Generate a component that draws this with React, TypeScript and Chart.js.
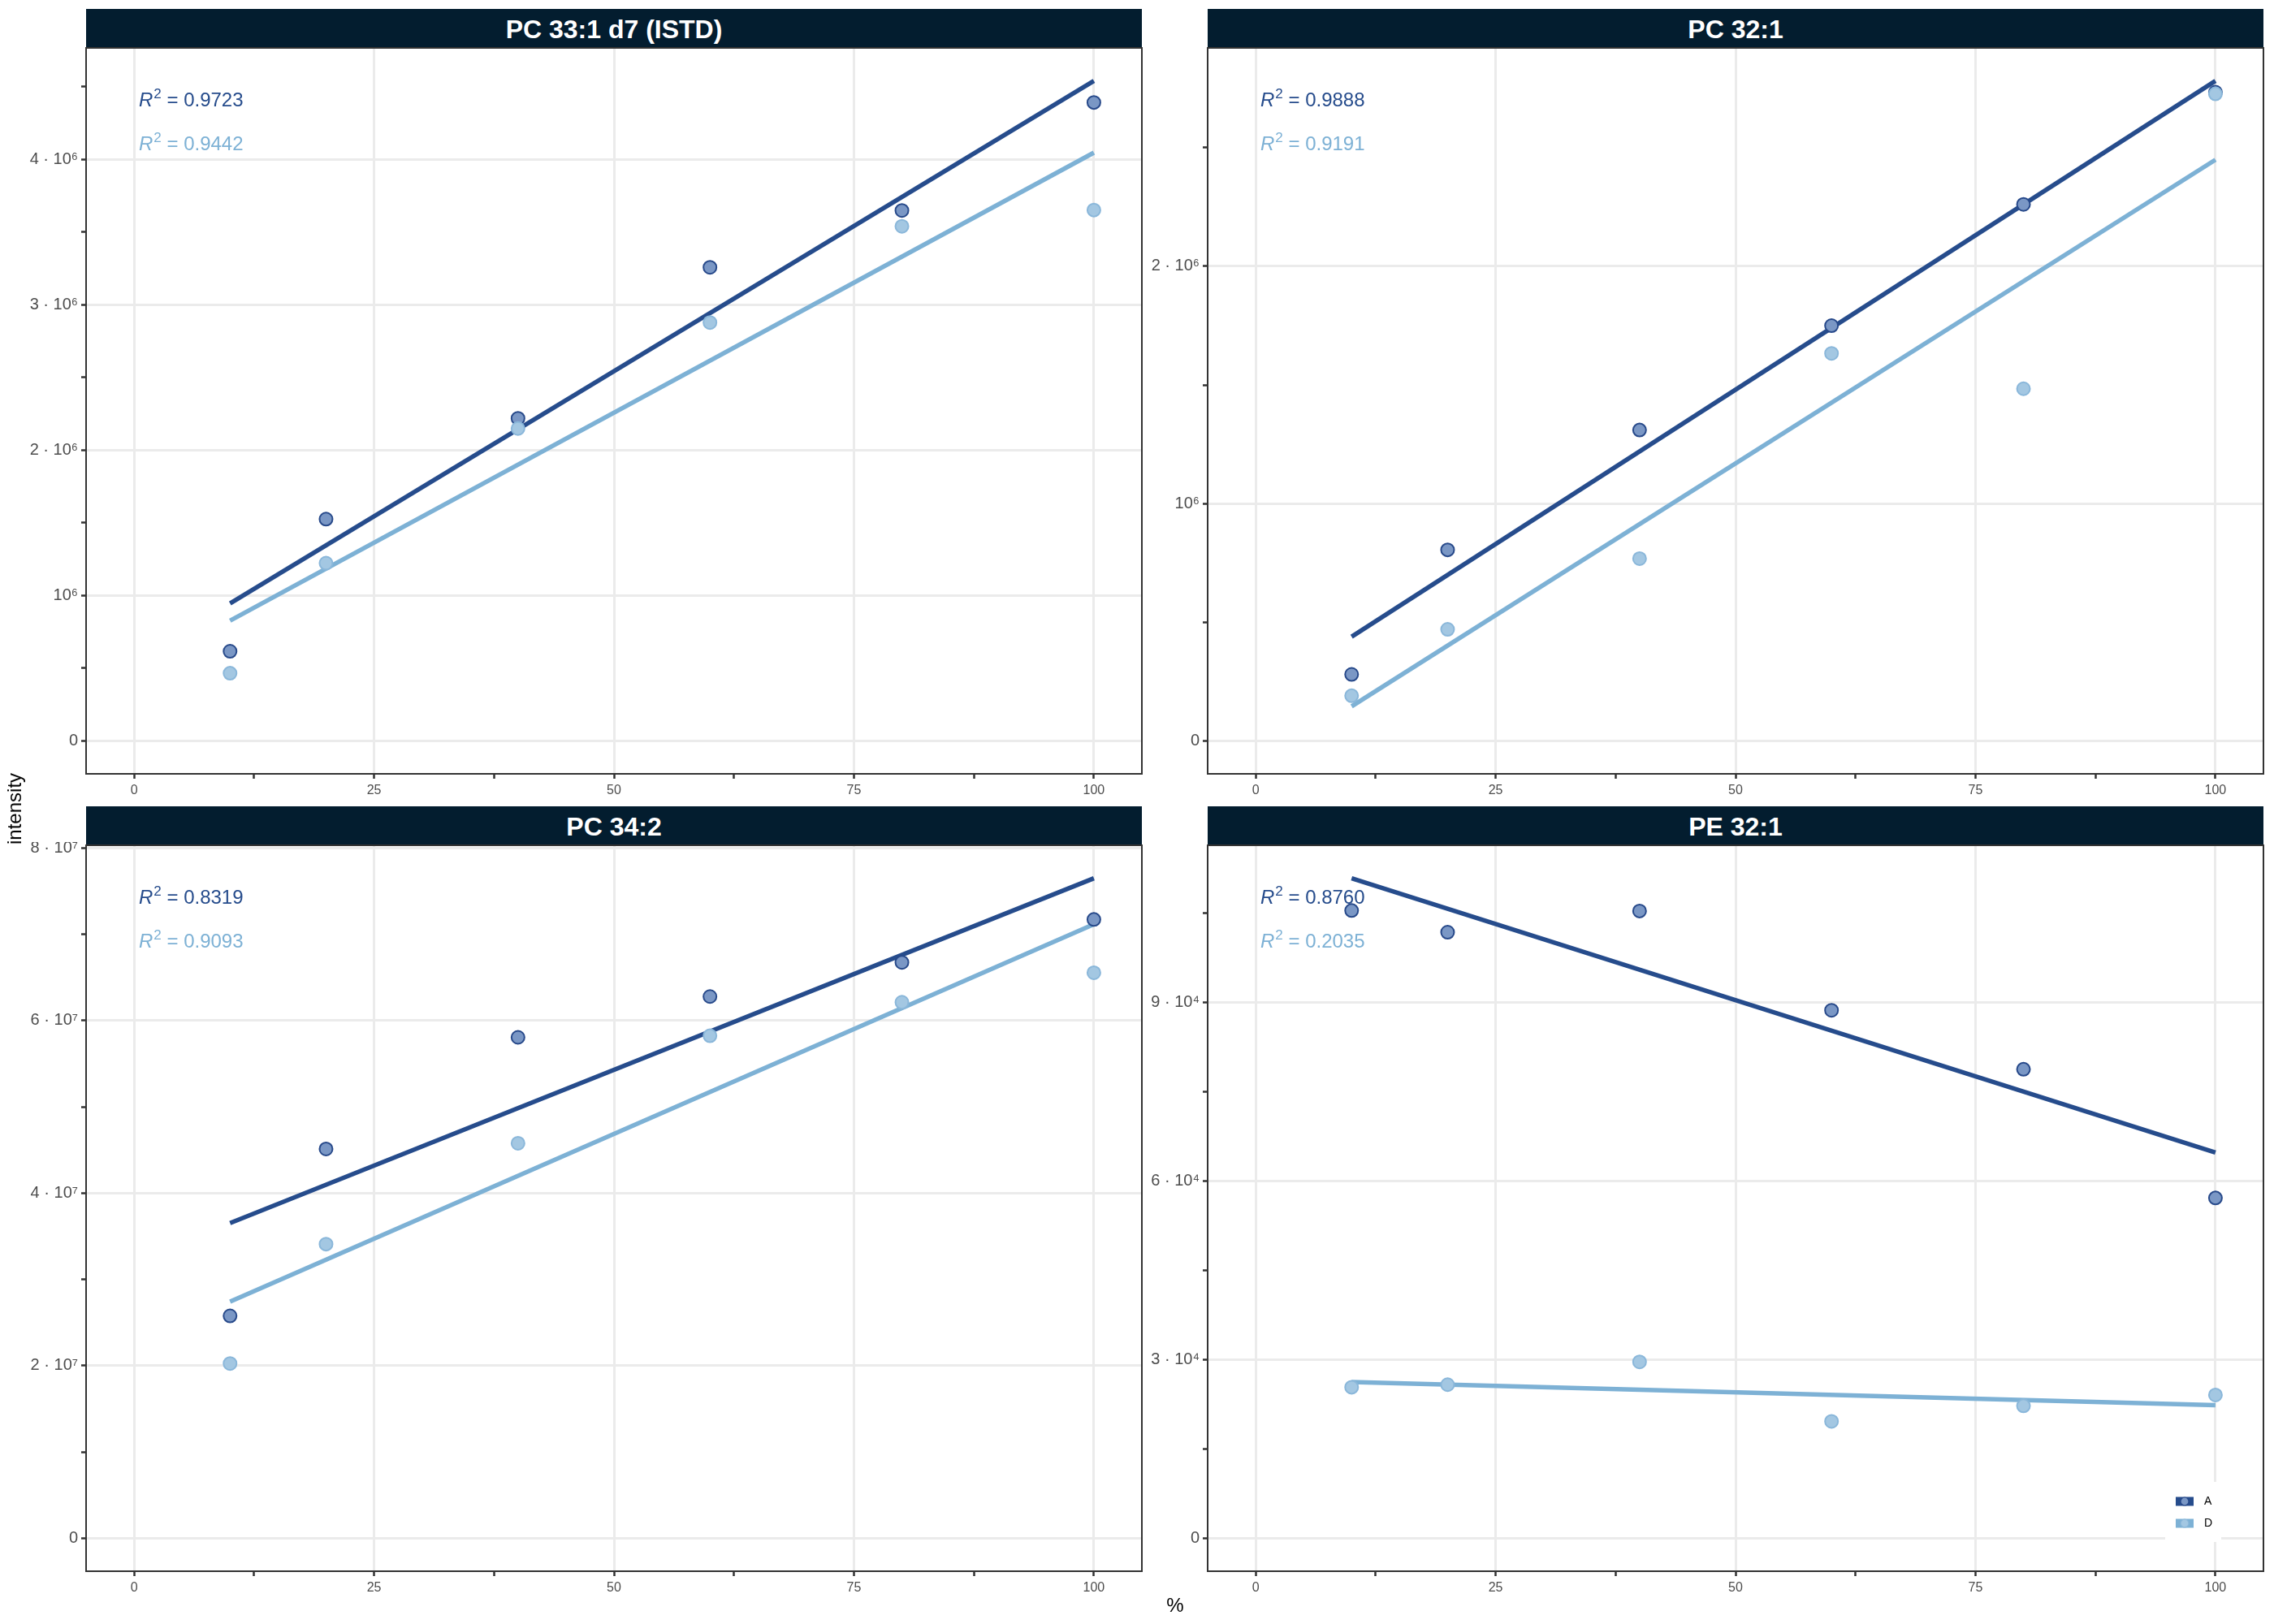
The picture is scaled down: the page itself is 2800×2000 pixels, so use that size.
import { useEffect, useRef } from "react";
import Chart from "chart.js/auto";

const FONT = "'Liberation Sans', Arial, Helvetica, sans-serif";

// concentration (%) of each sample
const percent = [10, 20, 40, 60, 80, 100];
const groups = ["A", "D"];
const titles = ["PC 33:1 d7 (ISTD)", "PC 32:1", "PC 34:2", "PE 32:1"];

// intensities
const pc331A = [0.616e6, 1.525e6, 2.218e6, 3.257e6, 3.648e6, 4.391e6];
const pc331D = [0.465e6, 1.222e6, 2.148e6, 2.877e6, 3.539e6, 3.651e6];
const pc321A = [0.28e6, 0.805e6, 1.31e6, 1.75e6, 2.261e6, 2.734e6];
const pc321D = [0.19e6, 0.47e6, 0.768e6, 1.633e6, 1.484e6, 2.727e6];
const pc342A = [2.577e7, 4.512e7, 5.806e7, 6.279e7, 6.675e7, 7.172e7];
const pc342D = [2.025e7, 3.409e7, 4.578e7, 5.824e7, 6.213e7, 6.555e7];
const pe321A = [10.538e4, 10.174e4, 10.53e4, 8.863e4, 7.873e4, 5.712e4];
const pe321D = [2.535e4, 2.578e4, 2.96e4, 1.962e4, 2.222e4, 2.405e4];

const seriesA = [pc331A, pc321A, pc342A, pe321A];
const seriesD = [pc331D, pc321D, pc342D, pe321D];

const r2A = ["0.9723", "0.9888", "0.8319", "0.8760"];
const r2D = ["0.9442", "0.9191", "0.9093", "0.2035"];

// y axis: major step and power of ten used in the labels
const yMajorStep = [1e6, 1e6, 2e7, 3e4];
const yExponent = [6, 6, 7, 4];
const xMajorStep = 25;
const xTickMax = 100;

const colA = { line: "#264c8c", fill: "#7a97c5", edge: "#27498a" };
const colD = { line: "#7db1d5", fill: "#a3c7e2", edge: "#8ab7da" };

// layout
const PLOT_LEFT = [106, 1487];
const PLOT_TOP = [59, 1041];
const PLOT_W = 1300;
const PLOT_H = 894;
const STRIP_H = 48;
const Y_AXIS_W = 100;
const X_AXIS_H = 40;
const PAD_T = 4;
const PAD_R = 6;

const SUP = "⁰¹²³⁴⁵⁶⁷⁸⁹";
const sup = (n: number) =>
  String(n)
    .split("")
    .map((c) => SUP[+c])
    .join("");

function linFit(xs: number[], ys: number[]) {
  const n = xs.length;
  const mx = xs.reduce((s, v) => s + v, 0) / n;
  const my = ys.reduce((s, v) => s + v, 0) / n;
  let sxy = 0;
  let sxx = 0;
  xs.forEach((x, i) => {
    sxy += (x - mx) * (ys[i] - my);
    sxx += (x - mx) * (x - mx);
  });
  const b = sxy / sxx;
  return (x: number) => my + b * (x - mx);
}

const isMultiple = (v: number, step: number) =>
  Math.abs(v / step - Math.round(v / step)) < 1e-6;

function drawR2(ctx: CanvasRenderingContext2D, x: number, y: number, val: string, color: string) {
  ctx.fillStyle = color;
  ctx.textAlign = "left";
  ctx.textBaseline = "alphabetic";
  ctx.font = `italic 24px ${FONT}`;
  ctx.fillText("R", x, y);
  x += ctx.measureText("R").width + 1;
  ctx.font = `17px ${FONT}`;
  ctx.fillText("2", x, y - 10);
  x += ctx.measureText("2").width;
  ctx.font = `24px ${FONT}`;
  ctx.fillText(" = " + val, x, y);
}

function Panel({ idx }: { idx: number }) {
  const ref = useRef<HTMLCanvasElement>(null);
  const col = idx % 2;
  const row = Math.floor(idx / 2);
  const left = PLOT_LEFT[col] - Y_AXIS_W;
  const top = PLOT_TOP[row] - PAD_T;
  const width = Y_AXIS_W + PLOT_W + PAD_R;
  const height = PAD_T + PLOT_H + X_AXIS_H;

  useEffect(() => {
    if (!ref.current) return;
    const a = seriesA[idx];
    const d = seriesD[idx];
    const fa = linFit(percent, a);
    const fd = linFit(percent, d);
    const ends = [Math.min(...percent), Math.max(...percent)];
    const all = [...a, ...d, ...ends.map(fa), ...ends.map(fd), 0];
    const lo = Math.min(...all);
    const hi = Math.max(...all);
    const pad = (hi - lo) * 0.05;
    const major = yMajorStep[idx];
    const minor = major / 2;
    const exp = yExponent[idx];
    const xPad = xTickMax * 0.05;

    const yLabel = (v: number) => {
      if (!isMultiple(v, major)) return "";
      if (Math.abs(v) < minor / 10) return "0";
      const m = Math.round(v / 10 ** exp);
      return m === 1 ? `10${sup(exp)}` : `${m} · 10${sup(exp)}`;
    };

    const decor = {
      id: "decor",
      afterDatasetsDraw(chart: any) {
        const { ctx, chartArea: ca } = chart;
        ctx.save();
        drawR2(ctx, ca.left + 65, ca.top + 72, r2A[idx], colA.line);
        drawR2(ctx, ca.left + 65, ca.top + 126, r2D[idx], colD.line);
        if (idx === 3) {
          const bx = ca.right - 121;
          const by = ca.bottom - 110;
          ctx.fillStyle = "#ffffff";
          ctx.fillRect(bx, by, 69, 74);
          [colA, colD].forEach((c, i) => {
            const cy = by + 24 + i * 27;
            ctx.fillStyle = c.line;
            ctx.fillRect(bx + 13, cy - 5.5, 22, 11);
            ctx.beginPath();
            ctx.arc(bx + 24, cy, 5, 0, Math.PI * 2);
            ctx.fillStyle = c.fill;
            ctx.fill();
            ctx.lineWidth = 1.2;
            ctx.strokeStyle = c.edge;
            ctx.stroke();
            ctx.fillStyle = "#000000";
            ctx.font = `14px ${FONT}`;
            ctx.textBaseline = "middle";
            ctx.textAlign = "left";
            ctx.fillText(groups[i], bx + 48, cy);
          });
        }
        ctx.lineWidth = 2;
        ctx.strokeStyle = "#333333";
        ctx.strokeRect(ca.left, ca.top, ca.right - ca.left, ca.bottom - ca.top);
        ctx.restore();
      },
    };

    const chart = new Chart(ref.current, {
      type: "scatter",
      data: {
        datasets: [
          {
            type: "line",
            label: "fit A",
            data: ends.map((x) => ({ x, y: fa(x) })),
            borderColor: colA.line,
            borderWidth: 5.5,
            pointRadius: 0,
            fill: false,
            order: 4,
          },
          {
            type: "line",
            label: "fit D",
            data: ends.map((x) => ({ x, y: fd(x) })),
            borderColor: colD.line,
            borderWidth: 5.5,
            pointRadius: 0,
            fill: false,
            order: 3,
          },
          {
            label: groups[0],
            data: percent.map((x, i) => ({ x, y: a[i] })),
            backgroundColor: colA.fill,
            borderColor: colA.edge,
            borderWidth: 2,
            pointRadius: 8,
            order: 2,
          },
          {
            label: groups[1],
            data: percent.map((x, i) => ({ x, y: d[i] })),
            backgroundColor: colD.fill,
            borderColor: colD.edge,
            borderWidth: 2,
            pointRadius: 8,
            order: 1,
          },
        ],
      },
      options: {
        animation: false,
        responsive: false,
        events: [],
        layout: {
          autoPadding: false,
          padding: { top: PAD_T, right: PAD_R, left: 0, bottom: 0 },
        },
        plugins: {
          legend: { display: false },
          tooltip: { enabled: false },
        },
        scales: {
          x: {
            type: "linear",
            min: -xPad,
            max: xTickMax + xPad,
            afterBuildTicks: (s: any) => {
              const t = [];
              for (let k = 0; k * (xMajorStep / 2) <= xTickMax; k++) t.push({ value: k * (xMajorStep / 2) });
              s.ticks = t;
            },
            afterFit: (s: any) => {
              s.height = X_AXIS_H;
              s.paddingLeft = 0;
              s.paddingRight = 0;
            },
            border: { display: false },
            grid: {
              color: (c: any) =>
                c.tick && isMultiple(c.tick.value, xMajorStep) ? "#ebebeb" : "rgba(0,0,0,0)",
              lineWidth: 3,
              tickColor: "#333333",
              tickWidth: 2.5,
              tickLength: 6,
            },
            ticks: {
              autoSkip: false,
              maxRotation: 0,
              padding: 5,
              color: "#4d4d4d",
              font: { family: FONT, size: 16 },
              callback: (v: any) => (isMultiple(Number(v), xMajorStep) ? String(v) : ""),
            },
          },
          y: {
            type: "linear",
            min: lo - pad,
            max: hi + pad,
            afterBuildTicks: (s: any) => {
              const t = [];
              for (let k = Math.ceil((lo - pad) / minor); k * minor <= hi + pad; k++) t.push({ value: k * minor });
              s.ticks = t;
            },
            afterFit: (s: any) => {
              s.width = Y_AXIS_W;
              s.paddingTop = 0;
              s.paddingBottom = 0;
            },
            border: { display: false },
            grid: {
              color: (c: any) =>
                c.tick && isMultiple(c.tick.value, major) ? "#ebebeb" : "rgba(0,0,0,0)",
              lineWidth: 3,
              tickColor: "#333333",
              tickWidth: 2.5,
              tickLength: 6,
            },
            ticks: {
              autoSkip: false,
              padding: 4,
              color: "#4d4d4d",
              font: { family: FONT, size: 20 },
              callback: (v: any) => yLabel(Number(v)),
            },
          },
        },
      },
      plugins: [decor],
    } as any);

    return () => chart.destroy();
  }, [idx]);

  return (
    <>
      <div
        style={{
          position: "absolute",
          left: PLOT_LEFT[col],
          top: PLOT_TOP[row] - STRIP_H,
          width: PLOT_W,
          height: STRIP_H,
          background: "#031d2f",
          color: "#ffffff",
          font: `bold 32px ${FONT}`,
          lineHeight: "50px",
          textAlign: "center",
          overflow: "hidden",
          whiteSpace: "nowrap",
        }}
      >
        {titles[idx]}
      </div>
      <canvas
        ref={ref}
        width={width}
        height={height}
        style={{ position: "absolute", left, top, width, height }}
      />
    </>
  );
}

export default function App() {
  useEffect(() => {
    document.body.style.margin = "0";
    document.body.style.background = "#ffffff";
  }, []);

  return (
    <div style={{ position: "relative", width: 2800, height: 2000, background: "#ffffff", overflow: "hidden" }}>
      {[0, 1, 2, 3].map((i) => (
        <Panel key={i} idx={i} />
      ))}
      <div
        style={{
          position: "absolute",
          left: 18,
          top: 996,
          transform: "translate(-50%, -50%) rotate(-90deg)",
          font: `24px ${FONT}`,
          color: "#000000",
          whiteSpace: "nowrap",
        }}
      >
        intensity
      </div>
      <div
        style={{
          position: "absolute",
          left: 1447,
          top: 1977,
          transform: "translate(-50%, -50%)",
          font: `24px ${FONT}`,
          color: "#000000",
          whiteSpace: "nowrap",
        }}
      >
        %
      </div>
    </div>
  );
}
